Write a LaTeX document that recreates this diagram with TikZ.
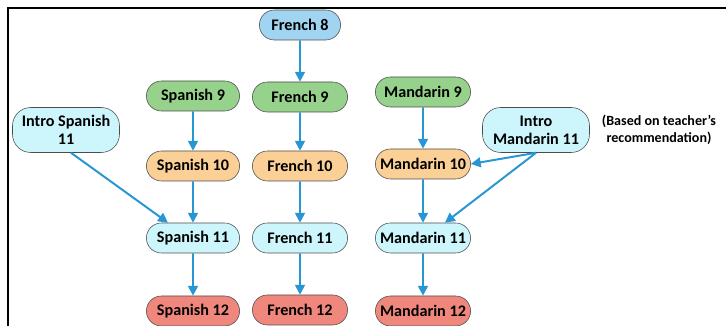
\documentclass[tikz,border=0pt]{standalone}
\usepackage{fontspec}
\setmainfont{Carlito}
\usepackage{xcolor}
\usetikzlibrary{arrows.meta,shapes.misc}
\definecolor{frblue}{RGB}{160,212,240}
\definecolor{lvlgreen}{RGB}{150,210,140}
\definecolor{lvlorange}{RGB}{250,208,150}
\definecolor{lvlcyan}{RGB}{205,245,252}
\definecolor{lvlred}{RGB}{240,135,125}
\definecolor{arrowblue}{RGB}{40,150,210}
\tikzset{>={Triangle[length=7pt,width=7pt]},
  course/.style={draw=black!70, rounded rectangle, minimum width=96*0.025cm,
    minimum height=30*0.025cm, inner sep=1pt, align=center,
    font=\fontsize{11.5}{13}\selectfont\bfseries},
  intro/.style={draw=black!70, fill=lvlcyan, rounded corners=13pt,
    minimum width=107*0.025cm, minimum height=45*0.025cm, inner sep=1pt,
    align=center, font=\fontsize{11.5}{13}\selectfont\bfseries},
  link/.style={line width=1.4pt, arrowblue, ->}}

\begin{document}
\begin{tikzpicture}[x=0.025cm,y=-0.025cm]
    \useasboundingbox (0,0) rectangle (726,326);
    \clip (0,0) rectangle (726,326);

    \draw[line width=1.5pt] (8,326)--(8,8)--(727,8);

    \node[course, fill=frblue, minimum width=84*0.025cm] (fr8) at (300,25) {French 8};

    \node[course, fill=lvlgreen] (sp9) at (193,96) {Spanish 9};
    \node[course, fill=lvlgreen, minimum width=98*0.025cm] (fr9) at (300,97) {French 9};
    \node[course, fill=lvlgreen, minimum width=98*0.025cm] (md9) at (423,92) {Mandarin 9};

    \node[intro] (isp) at (66,130) {Intro Spanish\\11};
    \node[intro] (imd) at (536,130) {Intro\\Mandarin 11};
    \node[font=\fontsize{10}{12}\selectfont\bfseries, align=center] (note) at (659,130) {(Based on teacher's\\recommendation)};

    \node[course, fill=lvlorange] (sp10) at (193,166) {Spanish 10};
    \node[course, fill=lvlorange, minimum width=98*0.025cm] (fr10) at (300,166) {French 10};
    \node[course, fill=lvlorange, minimum width=98*0.025cm] (md10) at (423,164) {Mandarin 10};

    \node[course, fill=lvlcyan] (sp11) at (193,238) {Spanish 11};
    \node[course, fill=lvlcyan, minimum width=98*0.025cm] (fr11) at (300,238) {French 11};
    \node[course, fill=lvlcyan, minimum width=98*0.025cm] (md11) at (423,238) {Mandarin 11};

    \node[course, fill=lvlred] (sp12) at (193,311) {Spanish 12};
    \node[course, fill=lvlred, minimum width=98*0.025cm] (fr12) at (300,310) {French 12};
    \node[course, fill=lvlred, minimum width=98*0.025cm] (md12) at (423,311) {Mandarin 12};

    % straight paths
    \draw[link] (fr8)--(fr9);
    \foreach \a/\b in {sp9/sp10,sp10/sp11,sp11/sp12,fr9/fr10,fr10/fr11,fr11/fr12,md9/md10,md10/md11,md11/md12}
      \draw[link] (\a)--(\b);

    % intro courses
    \draw[link] ([xshift=5*0.025cm]isp.south) -- ([xshift=-25*0.025cm]sp11.north);
    \draw[link] (imd.south)--(md10.east);
    \draw[link] (imd.south)--([xshift=22*0.025cm]md11.north);
\end{tikzpicture}
\end{document}
